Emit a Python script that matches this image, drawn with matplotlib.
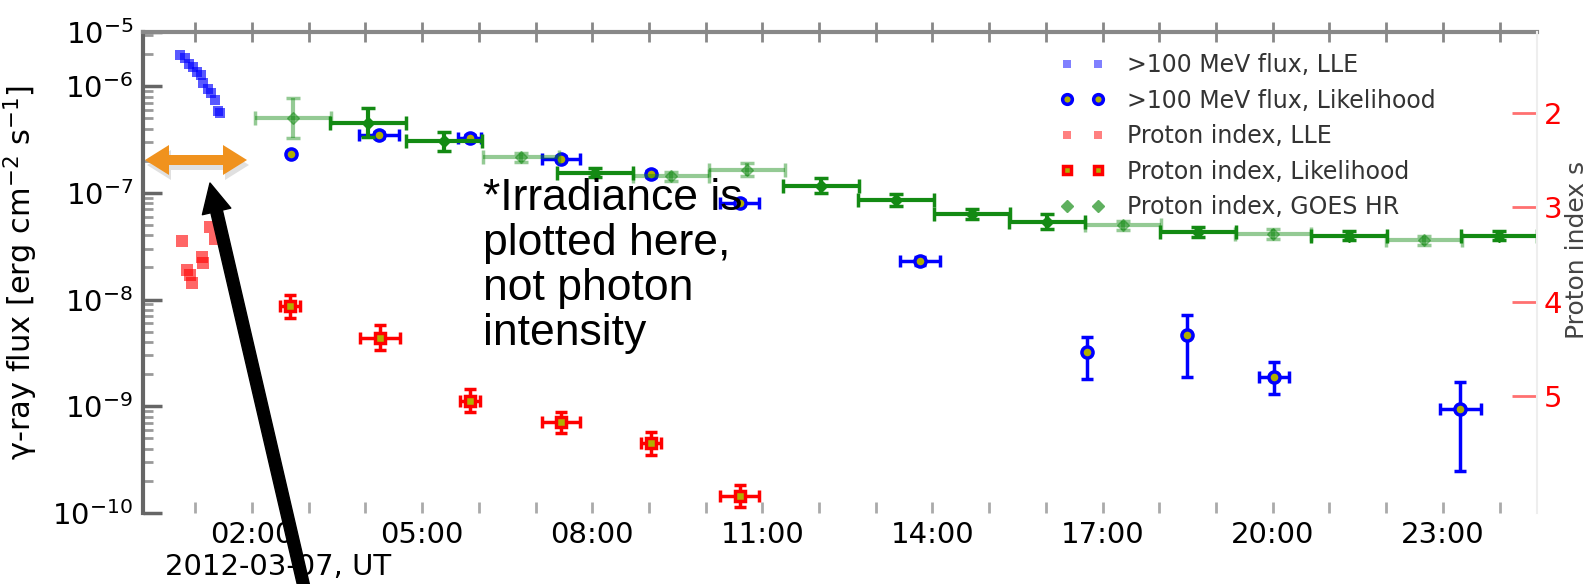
import numpy as np
import matplotlib
matplotlib.use("Agg")
import matplotlib.pyplot as plt
from matplotlib.patches import Polygon, FancyArrowPatch
from matplotlib.lines import Line2D

# hours of 2012-03-07 (UT)
# >100 MeV flux, LLE
lle_t = [0.73, 0.82, 0.89, 0.96, 1.03, 1.10, 1.14, 1.22, 1.28, 1.35, 1.40, 1.44]
lle_flux = [1.95e-6, 1.82e-6, 1.62e-6, 1.51e-6, 1.35e-6, 1.26e-6, 1.07e-6,
            9.5e-7, 8.7e-7, 7.4e-7, 5.9e-7, 5.6e-7]

# >100 MeV flux, Likelihood
lik_t = [2.69, 4.24, 5.84, 7.45, 9.04, 10.60, 13.78, 16.73, 18.49, 20.02, 23.31]
lik_flux = [2.3e-7, 3.5e-7, 3.3e-7, 2.1e-7, 1.5e-7, 8.1e-8, 2.3e-8, 3.2e-9, 4.7e-9, 1.9e-9, 9.5e-10]
lik_lo = [2.2e-7, 3.3e-7, 3.1e-7, 2.0e-7, 1.4e-7, 7.7e-8, 2.1e-8, 1.8e-9, 1.9e-9, 1.3e-9, 2.5e-10]
lik_hi = [2.4e-7, 3.7e-7, 3.5e-7, 2.2e-7, 1.6e-7, 8.5e-8, 2.5e-8, 4.5e-9, 7.1e-9, 2.6e-9, 1.7e-9]
lik_dt = [0.0, 0.36, 0.20, 0.34, 0.0, 0.34, 0.36, 0.0, 0.0, 0.26, 0.36]

# proton index, LLE
plle_t = [0.77, 0.85, 0.91, 0.94, 1.12, 1.14, 1.26, 1.35]
plle_s = [3.36, 3.66, 3.72, 3.80, 3.53, 3.59, 3.21, 3.33]

# proton index, Likelihood
plik_t = [2.67, 4.26, 5.84, 7.45, 9.04, 10.60]
plik_s = [4.05, 4.38, 5.05, 5.28, 5.50, 6.06]
plik_dt = [0.18, 0.35, 0.18, 0.34, 0.18, 0.34]
plik_ds = [0.12, 0.13, 0.12, 0.11, 0.12, 0.12]

# proton index, GOES HR
goes_t = [2.72, 4.05, 5.39, 6.74, 8.05, 9.39, 10.73, 12.04, 13.36, 14.70,
          16.02, 17.36, 18.68, 20.00, 21.35, 22.67, 23.99]
goes_s = [2.05, 2.10, 2.30, 2.47, 2.63, 2.67, 2.60, 2.77, 2.92, 3.07,
          3.15, 3.19, 3.26, 3.28, 3.30, 3.35, 3.30]
goes_ds = [0.21, 0.15, 0.10, 0.05, 0.05, 0.05, 0.07, 0.08, 0.06, 0.05,
           0.08, 0.05, 0.05, 0.05, 0.05, 0.05, 0.05]
goes_dt = [0.67] * 17
goes_faint = [1, 0, 0, 1, 0, 1, 1, 0, 0, 0, 0, 1, 0, 1, 0, 1, 0]

xticks = [2, 5, 8, 11, 14, 17, 20, 23]
yticks = [1e-10, 1e-9, 1e-8, 1e-7, 1e-6]

W, H = 1596, 584
def px(x, y):
    return (x / W, 1 - y / H)

fig = plt.figure(figsize=(W / 100, H / 100), dpi=100)
ax = fig.add_axes([143 / W, 1 - 513 / H, (1537 - 143) / W, (513 - 32) / H])
ax2 = ax.twinx()

ytop = 10 ** (-10 + 481 / 106.7)
ax.set_yscale("log")
ax.set_ylim(1e-10, ytop)
ax.set_xlim(0.078, 24.66)

# flux (left axis)
ax.plot(lle_t, lle_flux, "s", color="blue", ms=7, alpha=0.65, mew=0)
lik_f = np.array(lik_flux)
ax.errorbar(lik_t, lik_f, xerr=lik_dt,
            yerr=[lik_f - np.array(lik_lo), np.array(lik_hi) - lik_f],
            fmt="o", mfc="#b0b000", mec="blue", mew=2.5, ms=8,
            ecolor="blue", elinewidth=2.5, capsize=4, capthick=2.5)

# proton index (right axis)
ax2.set_ylim(6.24, 1.14)
ax2.plot(plle_t, plle_s, "s", color="red", ms=8, alpha=0.6, mew=0)
ax2.errorbar(plik_t, plik_s, xerr=plik_dt, yerr=plik_ds,
             fmt="s", mfc="#b0b000", mec="red", mew=2.5, ms=7,
             ecolor="red", elinewidth=2.5, capsize=4, capthick=2.5)
for i in range(len(goes_t)):
    a = 0.45 if goes_faint[i] else 1.0
    ax2.errorbar(goes_t[i], goes_s[i], xerr=goes_dt[i], yerr=goes_ds[i],
                 fmt="D", color="#138a13", ms=6, elinewidth=3, capsize=5,
                 capthick=2.5, alpha=a)

# axes styling
ax.spines["bottom"].set_visible(False)
ax2.spines["bottom"].set_visible(False)
ax.spines["top"].set_color("#888888")
ax.spines["top"].set_linewidth(3)
ax.spines["left"].set_color("#666666")
ax.spines["left"].set_linewidth(3)
ax2.spines["left"].set_visible(False)
ax2.spines["top"].set_visible(False)
ax2.spines["right"].set_color("#eeeeee")
ax2.spines["right"].set_linewidth(1.5)
ax.spines["right"].set_visible(False)

ax.set_xticks(xticks, labels=["%02d:00" % h for h in xticks])
ax.set_xticks(range(1, 25), minor=True)
ax.tick_params(axis="x", which="both", direction="in", length=8, width=2,
               color="#aaaaaa", labelsize=21, pad=6)
top = ax.secondary_xaxis("top")
top.set_xticks(range(1, 25))
top.tick_params(direction="inout", length=14, width=2, color="#888888",
                labeltop=False)
top.spines["top"].set_visible(False)

ax.set_yticks(yticks + [ytop], labels=["$10^{-10}$", "$10^{-9}$", "$10^{-8}$",
                                       "$10^{-7}$", "$10^{-6}$", "$10^{-5}$"])
ax.tick_params(axis="y", which="major", direction="in", length=14, width=2.5,
               color="#666666", labelsize=21, pad=7)
ax.tick_params(axis="y", which="minor", direction="in", length=7, width=2,
               color="#999999")

ax2.set_yticks([2, 3, 4, 5])
ax2.tick_params(axis="y", direction="in", length=18, width=2, color="#ff7070",
                labelcolor="red", labelsize=21, pad=5)

ax.set_ylabel("γ-ray flux [erg cm$^{-2}$ s$^{-1}$]", fontsize=22)
ax.yaxis.set_label_coords(-0.074, 0.50)
fig.text(1577 / W, 1 - 250 / H, "Proton index s", fontsize=18, color="#444444",
         rotation=90, ha="center", va="center")
fig.text(165 / W, 1 - 567 / H, "2012-03-07, UT", fontsize=21, ha="left", va="center")

# legend
handles = [
    Line2D([], [], ls="", marker="s", color="#8080ff", ms=6, mew=0),
    Line2D([], [], ls="", marker="o", mfc="#b0b000", mec="blue", mew=2.5, ms=7),
    Line2D([], [], ls="", marker="s", color="#ff8080", ms=6, mew=0),
    Line2D([], [], ls="", marker="s", mfc="#b0b000", mec="red", mew=2.5, ms=6),
    Line2D([], [], ls="", marker="D", color="#5fb05f", ms=6),
]
labels = [">100 MeV flux, LLE", ">100 MeV flux, Likelihood", "Proton index, LLE",
          "Proton index, Likelihood", "Proton index, GOES HR"]
leg = ax2.legend(handles, labels, loc="upper left", bbox_to_anchor=px(1060, 53),
                 bbox_transform=fig.transFigure, frameon=False, fontsize=17,
                 numpoints=2, handlelength=1.9, handletextpad=0.93,
                 labelspacing=0.49, borderpad=0, borderaxespad=0)
for t in leg.get_texts():
    t.set_color("#333333")

# annotation: orange double arrow with shadow
arrow_pts = [(145, 160), (169, 145), (169, 155), (223, 155), (223, 145),
             (247, 160), (223, 175), (223, 165), (169, 165), (169, 175)]
shadow = Polygon([px(x + 2, y + 5) for x, y in arrow_pts], closed=True,
                 transform=fig.transFigure, color="#999999", alpha=0.3, lw=0)
orange = Polygon([px(x, y) for x, y in arrow_pts], closed=True,
                 transform=fig.transFigure, color="#f0921e", lw=0)
fig.add_artist(shadow)
fig.add_artist(orange)

# annotation: black arrow
blk = FancyArrowPatch(px(307, 600), px(210, 183), transform=fig.transFigure,
                      arrowstyle="simple,head_width=21,head_length=21,tail_width=8.5",
                      mutation_scale=1, color="black", shrinkA=0, shrinkB=0)
fig.add_artist(blk)

fig.text(483 / W, 1 - 178 / H, "*Irradiance is\nplotted here,\nnot photon\nintensity",
         fontsize=32, family="Liberation Sans", ha="left", va="top", linespacing=1.12)

fig.savefig("out.png", dpi=100)
